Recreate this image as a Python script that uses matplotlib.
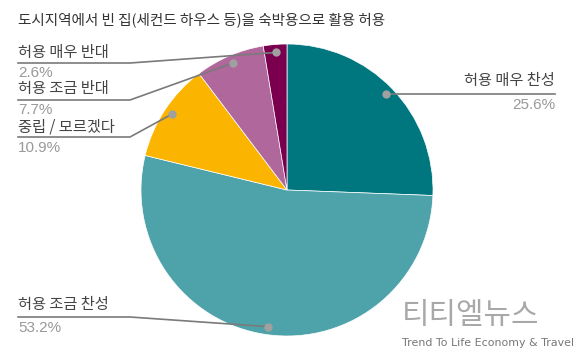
import numpy as np
import matplotlib
matplotlib.use("Agg")
import matplotlib.pyplot as plt

plt.rcParams['font.family'] = ['Noto Sans CJK KR', 'DejaVu Sans']

# 데이터
title = "도시지역에서 빈 집(세컨드 하우스 등)을 숙박용으로 활용 허용"
labels = ["허용 매우 찬성", "허용 조금 찬성", "중립 / 모르겠다", "허용 조금 반대", "허용 매우 반대"]
values = [25.6, 53.2, 10.9, 7.7, 2.6]
colors = ["#00777f", "#4ea3ab", "#fbb400", "#b0679b", "#7a004f"]

W, H = 573, 353
fig = plt.figure(figsize=(W / 100, H / 100), dpi=100)
ax = fig.add_axes([0, 0, 1, 1])

def Y(p):
    # 픽셀 좌표(위에서부터) -> 데이터 좌표
    return H - p

cx, cy, R = 287, Y(190), 146
wedges, _ = ax.pie(values, colors=colors, startangle=90, counterclock=False,
                   center=(cx, cy), radius=R, frame=True,
                   wedgeprops=dict(edgecolor='white', linewidth=0.5))
ax.set_xlim(0, W)
ax.set_ylim(0, H)
ax.set_aspect('equal')
ax.axis('off')

ax.text(18, Y(20), title, fontsize=10.5, color='#333333', va='center', ha='left')

# 라벨 위치 (텍스트 y, 밑줄 y, 퍼센트 y)
layout = [
    ('R', 80, 94, 105),
    ('L', 305, 317, 328),
    ('L', 127, 137, 148),
    ('L', 89, 100, 110),
    ('L', 52, 63, 73),
]
line_c = '#7a7a7a'
pct_font = ['Liberation Sans', 'DejaVu Sans']
for w, lab, val, (side, ty, uy, py) in zip(wedges, labels, values, layout):
    mid = np.deg2rad((w.theta1 + w.theta2) / 2)
    dx = cx + 0.945 * R * np.cos(mid)
    dy = cy + 0.945 * R * np.sin(mid)
    if side == 'L':
        ax.plot([18, 130, dx], [Y(uy), Y(uy), dy], color=line_c, lw=1.2, zorder=3)
        ax.text(18, Y(ty), lab, fontsize=11, color='#444444', ha='left', va='center')
        ax.text(18, Y(py), f"{val}%", fontsize=11, color='#999999', ha='left', va='center',
                family=pct_font)
    else:
        ax.plot([dx, 555], [dy, dy], color=line_c, lw=1.2, zorder=3)
        ax.text(555, Y(ty), lab, fontsize=11, color='#444444', ha='right', va='center')
        ax.text(555, Y(py), f"{val}%", fontsize=11, color='#999999', ha='right', va='center',
                family=pct_font)
    ax.plot(dx, dy, 'o', color='#a0a0a0', ms=6, mec='none', zorder=4)

# 워터마크
ax.text(402, Y(315), "티티엘뉴스", fontsize=21.5, color='#a8a8a8', ha='left', va='center')
ax.text(402, Y(343), "Trend To Life Economy & Travel", fontsize=7.9, color='#777777',
        ha='left', va='center', family=['DejaVu Sans'])

fig.savefig("out.png", dpi=100)
